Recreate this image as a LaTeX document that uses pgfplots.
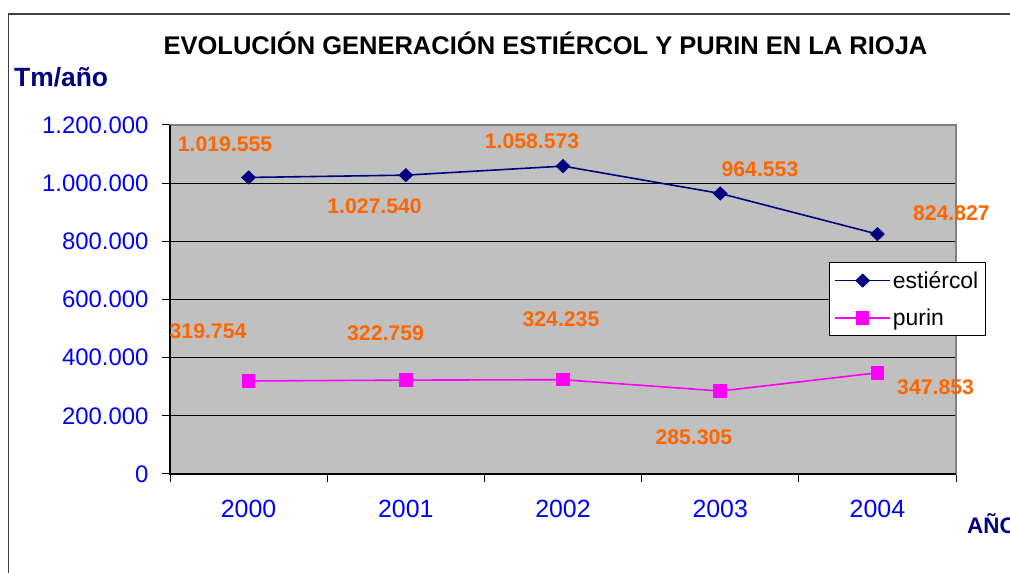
\documentclass[border=0pt]{standalone}
\usepackage{fontspec}
\setmainfont{Liberation Sans}
\usepackage{pgfplots}
\pgfplotsset{compat=1.18}
\definecolor{estnavy}{RGB}{0,0,128}
\definecolor{purmag}{RGB}{255,0,255}
\definecolor{lblorange}{RGB}{255,102,0}
\definecolor{tickblue}{RGB}{0,0,255}
\definecolor{plotgray}{RGB}{192,192,192}
\definecolor{bordergray}{RGB}{128,128,128}

\begin{document}
\begin{tikzpicture}[x=1bp,y=1bp]
\useasboundingbox (0,0) rectangle (1010,573);
% outer chart frame
\draw[line width=1.2bp, black!75] (8.5,-20) -- (8.5,559) -- (1030,559);
\node[inner sep=0, anchor=base, font=\fontsize{25.6}{26}\selectfont\bfseries] at (545.5,518)
  {EVOLUCIÓN GENERACIÓN ESTIÉRCOL Y PURIN EN LA RIOJA};
\node[inner sep=0, anchor=base west, text=estnavy, font=\fontsize{26.5}{27}\selectfont\bfseries] at (14,486) {Tm/año};
\node[inner sep=0, anchor=base west, text=estnavy, font=\fontsize{22.5}{23}\selectfont\bfseries] at (967,39) {AÑO};

\begin{axis}[
    at={(170bp,99bp)}, anchor=south west,
    width=786bp, height=349bp, scale only axis,
    xmin=-0.5, xmax=4.5, ymin=0, ymax=1200000,
    xtick={0,1,2,3,4}, xticklabels={2000,2001,2002,2003,2004},
    minor xtick={-0.5,0.5,1.5,2.5,3.5,4.5},
    ytick={0,200000,400000,600000,800000,1000000,1200000},
    xtick pos=bottom, ytick pos=left,
    scaled y ticks=false,
    /pgf/number format/.cd, fixed, 1000 sep={.}, assume math mode=true, /pgfplots/.cd,
    xticklabel style={font=\fontsize{25}{26}\selectfont, text=tickblue, yshift=-15bp},
    yticklabel style={font=\fontsize{24}{25}\selectfont, text=tickblue, xshift=-10bp},
    axis background/.style={fill=plotgray},
    ymajorgrids, major grid style={black, line width=0.9bp},
    tick align=outside, major tick length=8bp, minor tick length=8bp,
    tick style={black, line width=1bp},
    major x tick style={draw=none},
    axis line style={bordergray, line width=1.2bp},
    clip=false,
    legend style={at={(0.8384,0.6074)}, anchor=north west, draw=black, fill=white,
        line width=0.8bp, font=\fontsize{23}{24}\selectfont,
        inner xsep=5bp, inner ysep=7bp, row sep=15bp},
    legend cell align=left,
    legend image code/.code={\draw[#1, mark repeat=2, mark phase=2]
        plot coordinates {(0bp,0bp) (27.5bp,0bp) (55bp,0bp)};},
]
\addplot[estnavy, line width=1.6bp, mark=diamond*, mark size=6bp,
    mark options={fill=estnavy, xscale=1.4}]
    coordinates {(0,1019555) (1,1027540) (2,1058573) (3,964553) (4,824827)};
\addlegendentry{estiércol}
\addplot[purmag, line width=1.6bp, mark=square*, mark size=6bp,
    mark options={fill=purmag}]
    coordinates {(0,319754) (1,322759) (2,324235) (3,285305) (4,347853)};
\addlegendentry{purin}

\draw[black, line width=1.4bp] (rel axis cs:0,1) -- (rel axis cs:0,0) -- (rel axis cs:1,0);

\tikzset{lbl/.style={text=lblorange, inner sep=0, font=\fontsize{21.3}{22}\selectfont\bfseries}}
\node[lbl] at (axis cs:-0.150,1132950) {1.019.555};
\node[lbl] at (axis cs:0.801,919770) {1.027.540};
\node[lbl] at (axis cs:1.803,1145000) {1.058.573};
\node[lbl] at (axis cs:3.253,1047000) {964.553};
\node[lbl] at (axis cs:4.471,897400) {824.827};
\node[lbl] at (axis cs:-0.258,491700) {319.754};
\node[lbl] at (axis cs:0.871,483100) {322.759};
\node[lbl] at (axis cs:1.987,531200) {324.235};
\node[lbl] at (axis cs:2.833,127200) {285.305};
\node[lbl] at (axis cs:4.370,299100) {347.853};
\end{axis}
\end{tikzpicture}
\end{document}
